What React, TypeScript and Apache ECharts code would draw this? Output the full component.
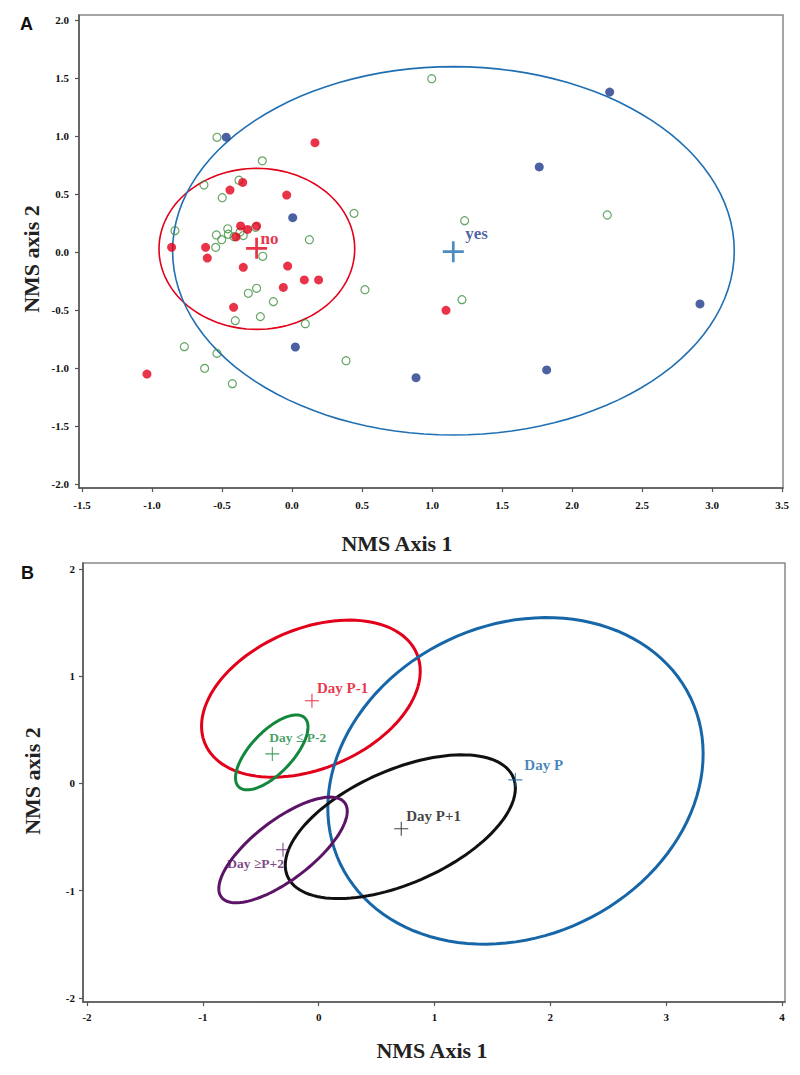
import React, { useEffect, useRef } from "react";
import * as echarts from "echarts";

// ---------- Panel A data ----------
const aTicksX = [-1.5, -1.0, -0.5, 0.0, 0.5, 1.0, 1.5, 2.0, 2.5, 3.0, 3.5];
const aTicksY = [-2.0, -1.5, -1.0, -0.5, 0.0, 0.5, 1.0, 1.5, 2.0];

const aRedX = [-0.86, -0.617, -0.605, -0.443, -0.352, 0.164, -0.038, -0.367, -0.317, -0.253, -0.348, -0.031, 0.088, 0.19, -0.062, -0.417, -1.036, 1.1, -0.40];
const aRedY = [0.04, 0.04, -0.052, 0.534, 0.6, 0.942, 0.491, 0.224, 0.195, 0.224, -0.132, -0.121, -0.241, -0.241, -0.305, -0.477, -1.052, -0.503, 0.13];

const aBlueX = [-0.47, 0.005, 0.024, 0.886, 1.819, 2.914, 1.766, 2.269];
const aBlueY = [0.99, 0.296, -0.819, -1.083, -1.017, -0.448, 0.733, 1.379];

const aGreenX = [-0.536, -0.212, -0.379, -0.629, -0.498, 0.443, -0.836, -0.26, -0.459, -0.54, -0.455, -0.414, -0.371, -0.348, -0.502, -0.545, 0.124, -0.209, -0.253, -0.312, -0.133, 0.521, -0.405, -0.226, 0.095, -0.769, -0.536, 0.386, -0.624, -0.426, 0.998, 2.252, 1.233, 1.214];
const aGreenY = [0.989, 0.786, 0.619, 0.577, 0.468, 0.333, 0.184, 0.213, 0.2, 0.147, 0.153, 0.132, 0.173, 0.142, 0.106, 0.04, 0.106, -0.037, -0.313, -0.356, -0.428, -0.325, -0.592, -0.557, -0.618, -0.816, -0.874, -0.937, -1.003, -1.135, 1.494, 0.319, 0.27, -0.411];

const aGroups = ["no", "yes"];
const aCentX = [-0.253, 1.152];
const aCentY = [0.032, 0.003];
const aEllCX = [-0.251, 1.153];
const aEllCY = [0.027, 0.01];
const aEllA = [0.699, 2.006];
const aEllB = [0.694, 1.588];
const aEllRot = [0, 0];

// ---------- Panel B data ----------
const bTicksX = [-2, -1, 0, 1, 2, 3, 4];
const bTicksY = [-2, -1, 0, 1, 2];
const bNames = ["Day P-1", "Day \u2264 P-2", "Day P", "Day P+1", "Day \u2265P+2"];
const bCentX = [-0.058, -0.4, 1.698, 0.713, -0.308];
const bCentY = [0.772, 0.276, 0.034, -0.422, -0.617];
const bEllCX = [-0.067, -0.405, 1.699, 0.705, -0.3075];
const bEllCY = [0.791, 0.29, 0.0245, -0.403, -0.6195];
const bEllA = [1.007, 0.43, 1.705, 1.079, 0.691];
const bEllB = [0.643, 0.187, 1.427, 0.521, 0.269];
const bEllRot = [26.9, 49.6, 34.7, 26.5, 40.4];

const RED = "#e2001a";
const NAVY = "#1f3a8a";
const BLUE_A = "#1f6fb2";
const GREEN_A = "#3d8f3d";
const B_COLORS = ["#e2001a", "#13883c", "#1767a8", "#111111", "#5b1466"];

const SERIF = '"Liberation Serif", "DejaVu Serif", serif';

const PLUS_A = "path://M-1.3,-10H1.3V-1.3H10V1.3H1.3V10H-1.3V1.3H-10V-1.3H-1.3Z";
const PLUS_B = "path://M-0.75,-10H0.75V-0.75H10V0.75H0.75V10H-0.75V0.75H-10V-0.75H-0.75Z";

function ellipseSeries(
  xAxisIndex: number,
  cx: number[],
  cy: number[],
  ra: number[],
  rb: number[],
  rot: number[],
  colors: string[],
  lw: number
) {
  return {
    type: "custom",
    xAxisIndex,
    yAxisIndex: xAxisIndex,
    silent: true,
    z: 2,
    data: cx.map((x, i) => [x, cy[i]]),
    encode: { x: 0, y: 1 },
    renderItem: (params: any, api: any) => {
      const i = params.dataIndex;
      const th = (rot[i] * Math.PI) / 180;
      const c = Math.cos(th);
      const s = Math.sin(th);
      const pts: number[][] = [];
      const N = 120;
      for (let k = 0; k < N; k++) {
        const t = (2 * Math.PI * k) / N;
        const ex = ra[i] * Math.cos(t);
        const ey = rb[i] * Math.sin(t);
        pts.push(api.coord([cx[i] + ex * c - ey * s, cy[i] + ex * s + ey * c]));
      }
      return {
        type: "polygon",
        shape: { points: pts },
        style: { fill: "none", stroke: colors[i], lineWidth: lw },
      };
    },
  };
}

function axisCommon(ticks: number[], fmt: (v: number) => string, margin: number) {
  return {
    axisLine: { show: true, onZero: false, lineStyle: { color: "#555", width: 1.5 } },
    axisTick: { show: true, length: 4, customValues: ticks, lineStyle: { color: "#555", width: 1.2 } },
    axisLabel: {
      customValues: ticks,
      formatter: (v: number) => fmt(v),
      color: "#111",
      fontFamily: SERIF,
      fontWeight: "bold",
      fontSize: 11,
      margin,
      showMinLabel: true,
      showMaxLabel: true,
    },
    splitLine: { show: false },
  };
}

export default function App() {
  const ref = useRef<HTMLDivElement>(null);
  useEffect(() => {
    if (!ref.current) return;
    const chart = echarts.init(ref.current, null, { renderer: "svg" });
    const fmt1 = (v: number) => v.toFixed(1);
    const fmt0 = (v: number) => String(Math.round(v));

    const option: any = {
      animation: false,
      backgroundColor: "#fff",
      grid: [
        { left: 79, top: 15, width: 704, height: 473, show: true, borderColor: "#888", borderWidth: 1.5 },
        { left: 83, top: 563, width: 702, height: 439, show: true, borderColor: "#888", borderWidth: 1.5 },
      ],
      xAxis: [
        { type: "value", gridIndex: 0, min: -1.5214, max: 3.5071, ...axisCommon(aTicksX, fmt1, 11) },
        { type: "value", gridIndex: 1, min: -2.0345, max: 4.0259, ...axisCommon(bTicksX, fmt0, 9) },
      ],
      yAxis: [
        { type: "value", gridIndex: 0, min: -2.0345, max: 2.0431, ...axisCommon(aTicksY, fmt1, 10) },
        { type: "value", gridIndex: 1, min: -2.0373, max: 2.0559, ...axisCommon(bTicksY, fmt0, 8) },
      ],
      series: [
        ellipseSeries(0, aEllCX, aEllCY, aEllA, aEllB, aEllRot, [RED, BLUE_A], 1.6),
        {
          type: "scatter",
          xAxisIndex: 0,
          yAxisIndex: 0,
          z: 3,
          symbol: "circle",
          symbolSize: 8,
          itemStyle: { color: "rgba(0,0,0,0)", borderColor: GREEN_A, borderWidth: 1.2 },
          data: aGreenX.map((x, i) => [x, aGreenY[i]]),
        },
        {
          type: "scatter",
          xAxisIndex: 0,
          yAxisIndex: 0,
          z: 4,
          symbol: "circle",
          symbolSize: 9,
          itemStyle: { color: RED },
          data: aRedX.map((x, i) => [x, aRedY[i]]),
        },
        {
          type: "scatter",
          xAxisIndex: 0,
          yAxisIndex: 0,
          z: 4,
          symbol: "circle",
          symbolSize: 9,
          itemStyle: { color: NAVY },
          data: aBlueX.map((x, i) => [x, aBlueY[i]]),
        },
        {
          type: "scatter",
          xAxisIndex: 0,
          yAxisIndex: 0,
          z: 5,
          symbol: PLUS_A,
          symbolSize: 21,
          data: aGroups.map((g, i) => ({
            value: [aCentX[i], aCentY[i]],
            name: g,
            itemStyle: { color: i === 0 ? RED : BLUE_A },
            label: {
              show: true,
              formatter: g,
              position: "inside",
              align: "left",
              verticalAlign: "middle",
              offset: i === 0 ? [4, -10] : [12, -18],
              color: i === 0 ? RED : NAVY,
              fontFamily: SERIF,
              fontWeight: "bold",
              fontSize: 17,
            },
          })),
        },
        ellipseSeries(1, bEllCX, bEllCY, bEllA, bEllB, bEllRot, B_COLORS, 3),
        {
          type: "scatter",
          xAxisIndex: 1,
          yAxisIndex: 1,
          z: 5,
          symbol: PLUS_B,
          symbolSize: 14,
          data: bNames.map((n, i) => {
            const offs = [[5, -13], [-3, -16], [9, -15], [5, -13], [1, 14]];
            const sizes = [15, 13.5, 15, 15, 13.5];
            return {
              value: [bCentX[i], bCentY[i]],
              name: n,
              itemStyle: { color: B_COLORS[i] },
              label: {
                show: true,
                formatter: n,
                position: "inside",
                align: i === 4 ? "right" : "left",
                verticalAlign: "middle",
                offset: offs[i],
                color: B_COLORS[i],
                fontFamily: SERIF,
                fontWeight: "bold",
                fontSize: sizes[i],
              },
            };
          }),
        },
      ],
      graphic: [
        { type: "text", x: 20, y: 24, style: { text: "A", font: 'bold 18px "Liberation Sans", Arial, sans-serif', fill: "#111", verticalAlign: "middle" } },
        { type: "text", x: 21, y: 573, style: { text: "B", font: 'bold 18px "Liberation Sans", Arial, sans-serif', fill: "#111", verticalAlign: "middle" } },
        { type: "text", x: 397, y: 543, style: { text: "NMS Axis 1", font: `bold 22px ${SERIF}`, fill: "#222", align: "center", verticalAlign: "middle" } },
        { type: "text", x: 432, y: 1050, style: { text: "NMS Axis 1", font: `bold 22px ${SERIF}`, fill: "#222", align: "center", verticalAlign: "middle" } },
        { type: "text", x: 31, y: 259, rotation: Math.PI / 2, style: { text: "NMS axis 2", font: `bold 22px ${SERIF}`, fill: "#222", align: "center", verticalAlign: "middle" } },
        { type: "text", x: 32, y: 781, rotation: Math.PI / 2, style: { text: "NMS axis 2", font: `bold 22px ${SERIF}`, fill: "#222", align: "center", verticalAlign: "middle" } },
      ],
    };
    chart.setOption(option);
    return () => chart.dispose();
  }, []);
  return <div ref={ref} style={{ position: "absolute", left: 0, top: 0, width: 800, height: 1075 }} />;
}
